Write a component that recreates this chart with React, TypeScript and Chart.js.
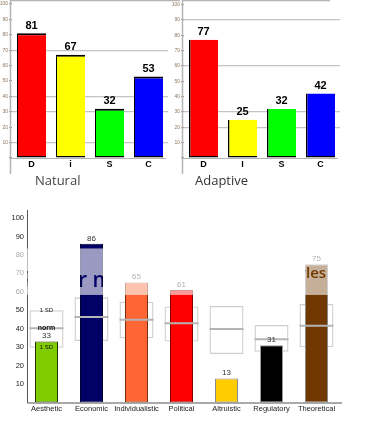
import React, { useEffect, useRef } from "react";
import { Chart, registerables } from "chart.js";
Chart.register(...registerables);

// ---------- DATA ----------
const naturalLabels = ["D", "i", "S", "C"];
const adaptiveLabels = ["D", "I", "S", "C"];
const naturalValues = [81, 67, 32, 53];
const adaptiveValues = [77, 25, 32, 42];
const discColors = ["#ff0000", "#ffff00", "#00ff00", "#0000ff"];
const naturalGridValues = [10, 30, 40, 70];
const adaptiveGridValues = [20, 30, 60, 90];

const motivatorCategories = [
  "Aesthetic",
  "Economic",
  "Individualistic",
  "Political",
  "Altruistic",
  "Regulatory",
  "Theoretical",
];
const motivatorValues = [33, 86, 65, 61, 13, 31, 75];
const normLow = [29.7, 33.3, 34.8, 33.0, 26.3, 27.5, 29.9];
const normHigh = [50.0, 57.0, 54.6, 52.1, 52.3, 42.0, 53.4];
const normMid = [40.2, 46.3, 44.9, 42.9, 39.8, 34.3, 41.6];
const motivatorColors = ["#80cc00", "#000066", "#ff6633", "#ff0000", "#ffcc00", "#000000", "#703800"];
const motivatorBorders = ["#1f3300", "#000033", "#7a2e10", "#800000", "#8a8a8a", "#9a9a9a", "#8a8a8a"];
const bandRange = [58.3, 83.5];

const FONT = "Arial, 'Liberation Sans', sans-serif";

function discConfig(
  labels: string[],
  values: number[],
  gridVals: number[],
  opts: {
    yWidth: number;
    padRight: number;
    padTop: number;
    border: any;
    axisX: number;
    topLineEnd: number;
    title: string;
    titleX: number;
    titleColor: string;
  }
): any {
  const plugin = {
    id: "discDecor",
    beforeDatasetsDraw(chart: any) {
      const ctx = chart.ctx;
      const ca = chart.chartArea;
      ctx.save();
      ctx.strokeStyle = "#b4b4b4";
      ctx.lineWidth = 1.5;
      ctx.beginPath();
      ctx.moveTo(opts.axisX, 0);
      ctx.lineTo(opts.axisX, 174);
      ctx.stroke();
      ctx.lineWidth = 1.2;
      ctx.beginPath();
      ctx.moveTo(opts.axisX, 0.7);
      ctx.lineTo(opts.topLineEnd, 0.7);
      ctx.stroke();
      ctx.beginPath();
      ctx.moveTo(opts.axisX, ca.bottom + 0.5);
      ctx.lineTo(ca.right - 2, ca.bottom + 0.5);
      ctx.stroke();
      ctx.restore();
    },
    afterDraw(chart: any) {
      const ctx = chart.ctx;
      const meta = chart.getDatasetMeta(0);
      ctx.save();
      ctx.fillStyle = "#000";
      ctx.font = `bold 11px ${FONT}`;
      ctx.textAlign = "center";
      ctx.textBaseline = "bottom";
      meta.data.forEach((el: any, i: number) => {
        ctx.fillText(String(values[i]), el.x, el.y - 2);
      });
      ctx.font = `13px "Open Sans", sans-serif`;
      ctx.fillStyle = opts.titleColor;
      ctx.textAlign = "left";
      ctx.textBaseline = "alphabetic";
      ctx.fillText(opts.title, opts.titleX, 185);
      ctx.restore();
    },
  };
  return {
    type: "bar",
    data: {
      labels,
      datasets: [
        {
          data: values,
          backgroundColor: discColors,
          borderColor: "#000",
          borderWidth: opts.border,
          borderSkipped: false,
          barPercentage: 29 / 39,
          categoryPercentage: 1,
        },
      ],
    },
    options: {
      animation: false,
      responsive: false,
      maintainAspectRatio: false,
      layout: { padding: { top: opts.padTop, right: opts.padRight, left: 0, bottom: 0 } },
      plugins: { legend: { display: false }, tooltip: { enabled: false }, title: { display: false } },
      scales: {
        x: {
          grid: { display: false, drawTicks: false },
          border: { display: false },
          ticks: {
            color: "#000",
            font: { family: FONT, size: 9, weight: "bold" },
            padding: 1,
            maxRotation: 0,
          },
          afterFit: (s: any) => {
            s.height = 42;
          },
        },
        y: {
          min: 0,
          max: 100,
          ticks: {
            stepSize: 10,
            color: "#8c7560",
            font: { family: FONT, size: 5 },
            padding: 1,
            callback: (v: any) => (v === 0 ? "" : String(v)),
          },
          grid: {
            color: (c: any) => (c.tick && gridVals.includes(c.tick.value) ? "#c4c4c4" : "rgba(0,0,0,0)"),
            tickColor: "#9a9a9a",
            tickLength: 3,
            drawTicks: true,
            lineWidth: 1.2,
          },
          border: { display: false },
          afterFit: (s: any) => {
            s.width = opts.yWidth;
          },
        },
      },
    },
    plugins: [plugin],
  };
}

function motivatorConfig(): any {
  const plugin = {
    id: "motivDecor",
    afterDraw(chart: any) {
      const ctx = chart.ctx;
      const ys = chart.scales.y;
      const ca = chart.chartArea;
      ctx.save();
      // axes
      ctx.strokeStyle = "#555";
      ctx.lineWidth = 1;
      ctx.beginPath();
      ctx.moveTo(27.5, 5);
      ctx.lineTo(27.5, ca.bottom + 0.5);
      ctx.lineTo(342, ca.bottom + 0.5);
      ctx.stroke();

      // value labels
      const barMeta = chart.getDatasetMeta(1);
      ctx.fillStyle = "#333";
      ctx.font = `8px ${FONT}`;
      ctx.textAlign = "center";
      ctx.textBaseline = "bottom";
      barMeta.data.forEach((el: any, i: number) => {
        ctx.fillText(String(motivatorValues[i]), el.x, el.y - 1.5);
      });

      // SD / norm labels for first category
      const bx = barMeta.data[0].x;
      ctx.fillStyle = "#111";
      ctx.textBaseline = "middle";
      ctx.font = `6px ${FONT}`;
      ctx.fillText("1 SD", bx, ys.getPixelForValue(normHigh[0]));
      ctx.fillText("1 SD", bx, ys.getPixelForValue(normLow[0]));
      ctx.font = `bold 7px ${FONT}`;
      ctx.fillText("norm", bx, ys.getPixelForValue(normMid[0]));
      ctx.restore();

      // translucent band with knocked-out text
      const yTop = ys.getPixelForValue(bandRange[1]);
      const yBot = ys.getPixelForValue(bandRange[0]);
      const W = chart.width;
      const H = chart.height;
      const off = document.createElement("canvas");
      off.width = W;
      off.height = H;
      const o = off.getContext("2d")!;
      o.fillStyle = "#ffffff";
      o.fillRect(0, yTop, W, yBot - yTop);
      o.globalCompositeOperation = "destination-out";
      o.fillStyle = "#000000";
      const ex = barMeta.data[1].x;
      const tx = barMeta.data[6].x;
      o.font = `600 21px "Open Sans", sans-serif`;
      o.textBaseline = "alphabetic";
      const xA = ex - 13.5 - o.measureText("Powe").width;
      o.fillText("Power mo", xA, yTop + 38.5);
      o.font = `600 15px "Open Sans", sans-serif`;
      const xB = tx - 10.5 - o.measureText("Value sty").width;
      o.fillText("Value styles", xB, yTop + 29.5);
      ctx.save();
      ctx.globalAlpha = 0.6;
      ctx.drawImage(off, 0, 0, W, H);
      ctx.restore();
    },
  };
  return {
    type: "bar",
    data: {
      labels: motivatorCategories,
      datasets: [
        {
          label: "norm range",
          data: normLow.map((l, i) => [l, normHigh[i]]),
          backgroundColor: "rgba(255,255,255,0)",
          borderColor: "#cfcfcf",
          borderWidth: 1.3,
          borderSkipped: false,
          barPercentage: 34 / 45,
          categoryPercentage: 1,
          grouped: false,
          order: 3,
        },
        {
          label: "score",
          data: motivatorValues,
          backgroundColor: motivatorColors,
          borderColor: motivatorBorders,
          borderWidth: 1,
          borderSkipped: false,
          barPercentage: 23 / 45,
          categoryPercentage: 1,
          grouped: false,
          order: 2,
        },
        {
          label: "norm",
          data: normMid.map((m) => [m - 0.55, m + 0.55]),
          backgroundColor: "#b4b4b4",
          borderWidth: 0,
          barPercentage: 34 / 45,
          categoryPercentage: 1,
          grouped: false,
          order: 1,
        },
      ],
    },
    options: {
      animation: false,
      responsive: false,
      maintainAspectRatio: false,
      layout: { padding: { top: 13, right: 26, left: 0, bottom: 0 } },
      plugins: { legend: { display: false }, tooltip: { enabled: false }, title: { display: false } },
      scales: {
        x: {
          grid: { display: false, drawTicks: false },
          border: { display: false },
          ticks: {
            color: "#222",
            font: { family: FONT, size: 7.5 },
            padding: 2,
            maxRotation: 0,
            autoSkip: false,
          },
          afterFit: (s: any) => {
            s.height = 19.5;
          },
        },
        y: {
          min: 0,
          max: 100,
          ticks: {
            stepSize: 10,
            color: "#222",
            font: { family: FONT, size: 7.5 },
            padding: 0,
            callback: (v: any) => (v === 0 ? "" : String(v)),
          },
          grid: { display: false, drawTicks: false },
          border: { display: false },
          afterFit: (s: any) => {
            s.width = 24;
          },
        },
      },
    },
    plugins: [plugin],
  };
}

export default function App() {
  const r1 = useRef<HTMLCanvasElement>(null);
  const r2 = useRef<HTMLCanvasElement>(null);
  const r3 = useRef<HTMLCanvasElement>(null);

  useEffect(() => {
    const c1 = new Chart(
      r1.current!,
      discConfig(naturalLabels, naturalValues, naturalGridValues, {
        yWidth: 12,
        padRight: 12,
        padTop: 1.5,
        border: { top: 2, left: 1, bottom: 1.5, right: 0 },
        axisX: 10.5,
        topLineEnd: 180,
        title: "Natural",
        titleX: 35,
        titleColor: "#444",
      })
    );
    const c2 = new Chart(
      r2.current!,
      discConfig(adaptiveLabels, adaptiveValues, adaptiveGridValues, {
        yWidth: 14,
        padRight: 25,
        padTop: 4.5,
        border: { top: 0, left: 1.5, bottom: 1.5, right: 0 },
        axisX: 12.5,
        topLineEnd: 160,
        title: "Adaptive",
        titleX: 25,
        titleColor: "#333",
      })
    );
    const c3 = new Chart(r3.current!, motivatorConfig());
    return () => {
      c1.destroy();
      c2.destroy();
      c3.destroy();
    };
  }, []);

  return (
    <div
      style={{
        position: "absolute",
        left: 0,
        top: 0,
        width: 365,
        height: 422,
        background: "#fff",
        overflow: "hidden",
      }}
    >
      <canvas ref={r1} width={180} height={200} style={{ position: "absolute", left: 0, top: 0 }} />
      <canvas ref={r2} width={195} height={200} style={{ position: "absolute", left: 170, top: 0 }} />
      <canvas ref={r3} width={365} height={217} style={{ position: "absolute", left: 0, top: 205 }} />
    </div>
  );
}
